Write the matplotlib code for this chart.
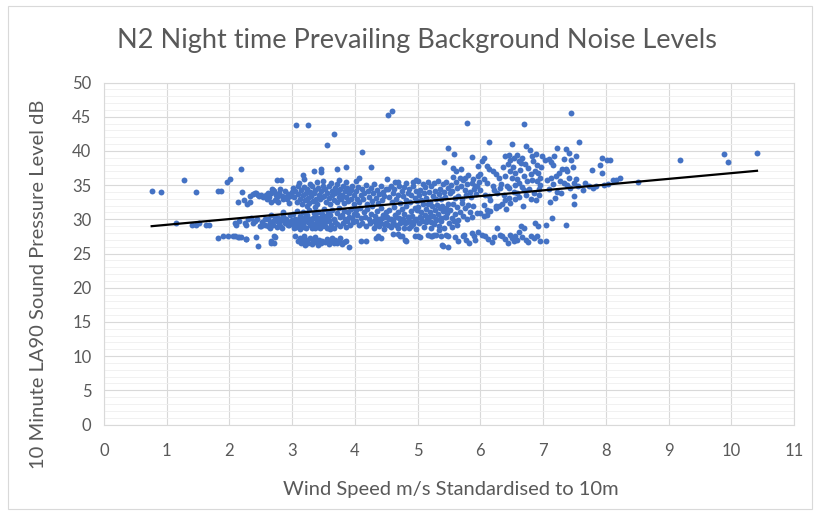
import numpy as np
import matplotlib
matplotlib.use("Agg")
import matplotlib.pyplot as plt
from matplotlib.patches import Rectangle

# (wind speed m/s, LA90 dB), grouped by wind speed band
band_below_2 = [
    (0.76, 34.2), (0.91, 34.0), (1.15, 29.5), (1.28, 35.7), (1.40, 29.1), (1.46, 34.0),
    (1.46, 29.1), (1.51, 29.4), (1.62, 29.2), (1.67, 29.2), (1.81, 34.2), (1.86, 34.2),
    (1.82, 27.2), (1.90, 27.5), (1.97, 27.6), (1.96, 35.5), (2.01, 35.9),
]
band_2_3 = [
    (2.19, 37.4), (2.20, 34.0), (2.13, 32.5), (2.23, 32.8), (2.28, 32.3), (2.32, 32.6),
    (2.33, 33.4), (2.37, 33.7), (2.40, 33.9), (2.42, 33.8), (2.45, 33.6), (2.47, 33.4),
    (2.09, 29.5), (2.11, 29.2), (2.16, 29.8), (2.24, 29.5), (2.26, 29.1), (2.30, 30.0),
    (2.34, 30.2), (2.38, 29.5), (2.40, 29.7), (2.44, 30.1), (2.48, 29.0),
    (2.06, 27.5), (2.09, 27.5), (2.14, 27.4), (2.16, 27.4), (2.19, 27.4), (2.26, 27.1),
    (2.27, 27.1), (2.43, 27.4), (2.45, 26.1),
    (2.76, 35.7), (2.82, 35.8),
    (2.50, 33.5), (2.53, 33.3), (2.56, 33.4), (2.58, 33.6), (2.62, 33.8), (2.63, 33.3),
    (2.66, 33.9), (2.68, 34.4), (2.70, 34.3), (2.71, 34.1), (2.74, 33.6), (2.76, 33.2),
    (2.79, 33.9), (2.81, 34.5), (2.84, 33.4), (2.87, 33.3), (2.89, 34.2), (2.92, 33.0),
    (2.94, 33.7), (2.97, 33.4), (2.99, 34.0), (2.66, 32.5), (2.72, 32.8), (2.78, 32.6),
    (2.86, 32.9), (2.95, 32.4), (2.60, 32.9),
    (2.50, 29.0), (2.56, 29.1), (2.61, 30.0), (2.64, 29.5), (2.67, 30.7), (2.70, 29.2),
    (2.72, 30.4), (2.75, 29.7), (2.78, 30.2), (2.80, 29.0), (2.83, 29.9), (2.86, 30.5),
    (2.88, 29.4), (2.90, 30.0), (2.93, 29.1), (2.96, 30.6), (2.98, 29.6), (2.85, 31.0),
    (2.76, 28.9), (2.65, 28.8),
    (2.52, 29.6), (2.57, 30.1), (2.62, 29.0), (2.69, 29.8), (2.74, 30.0), (2.79, 29.4),
    (2.84, 28.8), (2.91, 29.7), (2.95, 29.2),
    (2.66, 26.6), (2.67, 26.8), (2.71, 27.5), (2.72, 27.4), (2.71, 26.6),
]
band_3_4 = [
    (3.06, 43.85), (3.26, 43.85), (3.17, 36.5), (3.19, 35.9), (3.35, 37.1), (3.46, 37.4),
    (3.46, 36.9), (3.49, 35.6),
    (3.01, 34.6), (3.03, 33.2), (3.05, 34.1), (3.07, 32.6), (3.09, 33.7), (3.10, 34.9),
    (3.12, 33.0), (3.14, 34.3), (3.15, 32.2), (3.17, 33.5), (3.19, 34.7), (3.20, 32.8),
    (3.22, 33.9), (3.24, 34.4), (3.25, 33.1), (3.27, 32.4), (3.29, 34.0), (3.30, 33.4),
    (3.32, 34.8), (3.33, 32.7), (3.35, 33.8), (3.37, 34.3), (3.38, 33.0), (3.40, 32.3),
    (3.41, 34.6), (3.43, 33.6), (3.44, 32.9), (3.46, 34.1), (3.47, 33.3), (3.49, 34.9),
    (3.11, 35.3), (3.28, 35.2), (3.39, 35.4), (3.23, 31.9), (3.36, 31.8),
    (3.01, 30.8), (3.02, 29.3), (3.04, 30.1), (3.06, 28.9), (3.08, 31.2), (3.10, 29.7),
    (3.12, 30.5), (3.13, 28.6), (3.15, 29.9), (3.17, 31.0), (3.18, 29.4), (3.20, 30.3),
    (3.22, 28.8), (3.24, 30.7), (3.26, 29.6), (3.27, 31.3), (3.29, 30.0), (3.31, 28.7),
    (3.32, 29.5), (3.34, 30.9), (3.36, 29.1), (3.38, 30.4), (3.39, 29.8), (3.41, 31.1),
    (3.42, 28.9), (3.44, 30.2), (3.45, 29.4), (3.47, 30.8), (3.48, 29.0), (3.50, 30.0),
    (3.00, 29.9), (3.03, 28.8), (3.07, 29.5), (3.11, 30.1), (3.14, 29.2), (3.19, 28.9),
    (3.23, 29.8), (3.28, 29.1), (3.33, 30.2), (3.37, 28.8), (3.40, 29.6), (3.44, 28.7),
    (3.49, 29.5), (3.53, 29.0), (3.58, 29.7), (3.60, 28.6),
    (3.05, 27.6), (3.09, 26.9), (3.12, 27.3), (3.14, 26.5), (3.17, 26.8), (3.19, 27.5),
    (3.21, 26.3), (3.24, 27.0), (3.26, 26.6), (3.29, 27.2), (3.31, 26.4), (3.33, 26.9),
    (3.36, 27.4), (3.38, 26.7), (3.41, 26.2), (3.43, 27.0), (3.46, 26.5), (3.48, 26.9),
    (3.55, 40.8), (3.67, 42.5), (3.71, 37.3), (3.86, 37.6), (3.75, 35.8), (3.72, 35.1),
    (3.51, 33.4), (3.53, 34.5), (3.54, 32.6), (3.56, 33.9), (3.58, 34.8), (3.59, 33.1),
    (3.61, 32.3), (3.63, 34.2), (3.64, 33.5), (3.66, 32.8), (3.68, 34.6), (3.69, 33.8),
    (3.71, 32.5), (3.73, 34.0), (3.74, 33.2), (3.76, 34.4), (3.78, 32.9), (3.79, 33.6),
    (3.81, 34.9), (3.83, 32.4), (3.84, 34.1), (3.86, 33.3), (3.88, 34.6), (3.89, 32.7),
    (3.91, 33.9), (3.93, 34.3), (3.94, 33.0), (3.96, 34.8), (3.98, 33.5), (3.99, 32.2),
    (3.62, 35.3), (3.85, 35.4),
    (3.51, 31.5), (3.52, 29.6), (3.54, 30.5), (3.56, 28.8), (3.57, 31.0), (3.59, 29.9),
    (3.61, 30.7), (3.62, 29.2), (3.64, 31.4), (3.66, 30.1), (3.67, 28.7), (3.69, 29.6),
    (3.71, 30.9), (3.72, 29.3), (3.74, 31.6), (3.76, 30.3), (3.77, 29.0), (3.79, 30.6),
    (3.81, 29.5), (3.82, 31.2), (3.84, 30.0), (3.86, 28.9), (3.87, 29.8), (3.89, 31.0),
    (3.91, 30.4), (3.92, 29.2), (3.94, 31.5), (3.96, 30.2), (3.97, 29.6), (3.99, 30.8),
    (3.52, 26.7), (3.55, 27.1), (3.58, 26.4), (3.60, 26.9), (3.63, 27.3), (3.66, 26.6),
    (3.68, 27.0), (3.71, 26.5), (3.74, 26.8), (3.77, 27.2), (3.80, 26.4), (3.83, 26.7),
    (3.86, 26.9), (3.90, 25.9),
]
band_4_5 = [
    (4.12, 39.9), (4.26, 37.6), (4.07, 36.0), (4.02, 35.6),
    (4.01, 34.2), (4.03, 33.0), (4.05, 34.7), (4.07, 32.5), (4.09, 33.6), (4.11, 34.4),
    (4.13, 32.9), (4.15, 33.8), (4.17, 35.0), (4.19, 32.3), (4.21, 34.1), (4.23, 33.3),
    (4.25, 34.6), (4.27, 32.7), (4.29, 33.9), (4.31, 35.2), (4.33, 33.1), (4.35, 34.3),
    (4.37, 32.4), (4.39, 33.7), (4.41, 34.8), (4.43, 32.8), (4.45, 34.0), (4.47, 33.4),
    (4.49, 34.5),
    (4.01, 31.3), (4.02, 29.8), (4.04, 30.6), (4.06, 29.1), (4.08, 31.7), (4.10, 30.2),
    (4.12, 29.5), (4.14, 31.0), (4.16, 30.4), (4.18, 29.0), (4.20, 31.5), (4.22, 30.0),
    (4.24, 29.4), (4.26, 30.8), (4.28, 31.9), (4.30, 29.7), (4.32, 30.5), (4.34, 29.2),
    (4.36, 31.2), (4.38, 30.1), (4.40, 29.6), (4.42, 31.6), (4.44, 30.7), (4.46, 29.3),
    (4.48, 30.3), (4.50, 31.0),
    (4.31, 28.8), (4.35, 29.9), (4.39, 29.0), (4.43, 30.2), (4.47, 28.6),
    (4.09, 26.8), (4.17, 26.8), (4.33, 27.3), (4.37, 27.6), (4.41, 27.3),
    (4.52, 45.3), (4.59, 45.9), (4.51, 35.9), (4.64, 35.5), (4.69, 35.5), (4.82, 35.3),
    (4.93, 35.5), (4.98, 35.7),
    (4.52, 34.4), (4.54, 33.2), (4.57, 34.8), (4.59, 32.6), (4.61, 33.9), (4.63, 34.5),
    (4.66, 32.9), (4.68, 33.6), (4.70, 34.9), (4.72, 32.4), (4.75, 34.2), (4.77, 33.4),
    (4.79, 34.7), (4.81, 32.8), (4.84, 33.8), (4.86, 34.4), (4.88, 32.5), (4.90, 33.5),
    (4.92, 34.8), (4.95, 33.1), (4.97, 34.1), (4.99, 32.7),
    (4.51, 30.4), (4.53, 29.2), (4.55, 31.4), (4.58, 30.0), (4.60, 29.5), (4.62, 31.8),
    (4.64, 30.6), (4.66, 29.1), (4.69, 31.1), (4.71, 30.2), (4.73, 29.7), (4.75, 31.5),
    (4.78, 30.8), (4.80, 29.4), (4.82, 31.9), (4.84, 30.3), (4.87, 29.8), (4.89, 31.2),
    (4.91, 30.5), (4.93, 29.3), (4.95, 31.7), (4.97, 30.0), (4.99, 31.3), (4.86, 28.7),
    (4.50, 29.5), (4.54, 30.0), (4.57, 28.9), (4.61, 29.7), (4.65, 30.3), (4.68, 28.8),
    (4.72, 29.4), (4.76, 30.1), (4.79, 28.7), (4.83, 29.6), (4.87, 30.4), (4.90, 29.0),
    (4.94, 29.8), (4.98, 28.6),
    (4.69, 27.8), (4.72, 27.6), (4.75, 27.5), (4.80, 27.0), (4.81, 26.9), (4.96, 27.5),
    (4.60, 27.8),
]
band_5_6 = [
    (5.42, 38.4), (5.48, 40.4),
    (5.01, 35.6), (5.02, 33.5), (5.04, 34.3), (5.06, 32.8), (5.08, 35.2), (5.10, 33.9),
    (5.12, 34.7), (5.14, 33.1), (5.16, 35.5), (5.18, 34.0), (5.20, 32.6), (5.22, 34.9),
    (5.24, 33.4), (5.26, 35.3), (5.28, 34.2), (5.30, 32.9), (5.32, 35.6), (5.34, 33.7),
    (5.36, 34.5), (5.38, 33.0), (5.40, 35.1), (5.42, 34.0), (5.44, 33.3), (5.46, 35.4),
    (5.48, 34.6),
    (5.01, 31.8), (5.03, 30.3), (5.05, 31.1), (5.07, 29.8), (5.09, 32.2), (5.11, 30.7),
    (5.13, 31.5), (5.15, 30.0), (5.17, 32.3), (5.19, 31.0), (5.21, 29.6), (5.23, 31.9),
    (5.25, 30.5), (5.27, 31.3), (5.29, 29.9), (5.31, 32.1), (5.33, 30.8), (5.35, 31.6),
    (5.37, 30.2), (5.39, 32.0), (5.41, 31.2), (5.43, 30.4), (5.45, 31.7), (5.47, 30.9),
    (5.49, 32.3),
    (5.02, 29.4), (5.06, 30.2), (5.10, 28.9), (5.14, 29.6), (5.18, 30.4), (5.22, 28.8),
    (5.26, 29.3), (5.30, 30.1), (5.34, 29.0), (5.38, 29.7), (5.42, 28.7), (5.46, 30.3),
    (5.50, 29.4), (5.54, 28.9), (5.58, 29.8), (5.62, 29.2),
    (5.00, 27.5), (5.04, 27.4), (5.16, 27.75), (5.21, 27.5), (5.23, 27.6), (5.26, 27.75),
    (5.30, 27.7), (5.34, 28.5), (5.37, 27.6), (5.39, 26.2), (5.41, 26.1), (5.45, 27.75),
    (5.48, 27.5), (5.49, 26.0),
    (5.78, 44.1), (5.58, 39.6), (5.87, 39.1), (5.56, 37.5), (5.61, 37.1), (5.69, 37.4),
    (5.76, 36.05), (5.86, 35.3), (5.91, 34.8), (5.97, 37.75),
    (5.51, 33.8), (5.53, 35.0), (5.55, 34.2), (5.57, 36.2), (5.59, 33.1), (5.61, 35.5),
    (5.63, 34.6), (5.65, 33.4), (5.67, 36.0), (5.69, 34.9), (5.71, 33.0), (5.73, 35.8),
    (5.75, 34.3), (5.77, 33.6), (5.79, 35.2), (5.81, 36.5), (5.83, 34.0), (5.85, 33.3),
    (5.88, 35.9), (5.90, 34.4), (5.93, 33.7), (5.96, 36.3), (5.98, 35.4), (5.95, 34.8),
    (5.52, 31.4), (5.54, 30.2), (5.57, 32.3), (5.60, 30.8), (5.62, 31.8), (5.65, 29.9),
    (5.68, 31.1), (5.70, 32.4), (5.72, 30.5), (5.75, 31.6), (5.78, 30.0), (5.80, 32.1),
    (5.83, 31.0), (5.86, 30.4), (5.89, 31.9), (5.94, 30.9),
    (5.72, 27.5), (5.74, 27.75), (5.77, 27.0), (5.87, 28.0), (5.90, 27.5), (5.92, 27.0),
    (5.60, 27.4), (5.65, 26.8), (5.82, 26.6), (5.97, 28.2),
]
band_6_7 = [
    (6.13, 41.3), (6.50, 41.0), (6.73, 40.7), (6.79, 40.2), (6.69, 43.95),
    (6.06, 39.0), (6.03, 38.5), (6.39, 39.2), (6.45, 39.45), (6.48, 38.7), (6.53, 39.0),
    (6.58, 39.45), (6.61, 38.5), (6.64, 38.25), (6.66, 39.0), (6.82, 39.2), (6.84, 38.5),
    (6.90, 38.0),
    (6.11, 37.75), (6.14, 37.3), (6.20, 37.05), (6.25, 36.6), (6.30, 36.1),
    (6.00, 36.6), (6.06, 35.85), (6.11, 35.3), (6.20, 34.85), (6.22, 34.3),
    (6.48, 37.05), (6.50, 36.1), (6.56, 36.8), (6.58, 35.85), (6.61, 35.3), (6.69, 36.3),
    (6.74, 35.6), (6.80, 36.6), (6.87, 37.05), (6.92, 36.8), (6.95, 36.1), (6.90, 35.6),
    (6.95, 35.05),
    (6.45, 34.55), (6.53, 34.05), (6.58, 33.85), (6.69, 34.3),
    (6.00, 34.3), (6.08, 33.6), (6.13, 33.35), (6.16, 32.85), (6.45, 33.1), (6.39, 32.85),
    (6.06, 32.1), (6.11, 31.4), (6.16, 31.2), (6.25, 31.6), (6.30, 31.9), (6.35, 32.2),
    (6.00, 30.9), (6.06, 30.45), (6.11, 30.7), (6.25, 31.9),
    (6.33, 35.2), (6.36, 37.6), (6.40, 36.4), (6.42, 34.9), (6.44, 38.1), (6.52, 37.7),
    (6.55, 35.0), (6.63, 37.2), (6.66, 34.7), (6.71, 38.1), (6.76, 37.5), (6.78, 34.4),
    (6.83, 35.8), (6.86, 33.9), (6.89, 39.6), (6.93, 34.5), (6.97, 37.6), (6.98, 39.3),
    (6.27, 33.8), (6.31, 34.6), (6.37, 33.5), (6.41, 31.5), (6.47, 32.4), (6.55, 32.9),
    (6.62, 33.2), (6.68, 32.0), (6.72, 33.5), (6.80, 33.0), (6.88, 32.8), (6.93, 33.6),
    (6.03, 27.75), (6.08, 27.5), (6.27, 28.7), (6.32, 27.75), (6.35, 27.5), (6.48, 27.75),
    (6.50, 27.25), (6.56, 27.5), (6.58, 27.0), (6.61, 28.2), (6.64, 29.0), (6.69, 28.7),
    (6.72, 27.0), (6.80, 27.5), (6.85, 27.25), (6.87, 29.45), (6.92, 29.0), (6.95, 26.8),
    (6.12, 27.1), (6.18, 26.7), (6.22, 27.4), (6.40, 27.1), (6.44, 26.6), (6.53, 26.9),
    (6.66, 27.4), (6.76, 26.7), (6.90, 27.6),
]
band_above_7 = [
    (7.45, 45.6), (7.58, 41.3), (7.22, 40.4), (7.37, 40.3), (7.41, 39.7), (7.44, 38.6),
    (7.34, 38.8), (7.03, 38.6), (7.12, 38.35), (7.15, 38.0), (7.17, 39.3), (7.09, 38.8),
    (7.30, 37.3), (7.36, 37.4), (7.38, 37.0), (7.25, 36.8), (7.07, 35.8), (7.12, 36.05),
    (7.20, 36.3), (7.33, 35.3), (7.38, 35.05), (7.41, 36.05), (7.49, 35.3), (7.49, 33.4),
    (7.49, 32.3), (7.64, 34.3), (7.79, 34.55), (7.78, 37.2), (7.94, 39.0), (8.02, 38.6),
    (7.91, 38.0), (7.94, 36.8), (8.16, 35.8), (7.14, 30.2), (7.36, 29.1), (7.04, 29.2),
    (7.04, 26.8),
    (7.09, 34.5), (7.16, 35.2), (7.22, 34.0), (7.27, 35.6), (7.43, 34.6), (7.53, 35.9),
    (7.56, 34.9), (7.19, 33.1), (7.29, 33.8), (7.11, 32.5), (7.47, 37.6), (7.52, 39.2),
    (7.67, 35.3), (7.73, 34.9), (7.85, 34.8), (7.97, 35.0), (8.03, 35.2),
    (8.12, 35.7), (8.23, 36.1), (8.52, 35.4), (9.19, 38.7), (9.88, 39.6), (9.95, 38.4),
    (10.41, 39.7), (8.07, 38.6),
]

points = np.array(band_below_2 + band_2_3 + band_3_4 + band_4_5
                  + band_5_6 + band_6_7 + band_above_7)
wind_speed = points[:, 0]
la90 = points[:, 1]

text_grey = "#595959"
grid_grey = "#d9d9d9"
font = "Lato"

fig = plt.figure(figsize=(8.15, 5.14), dpi=100)
fig.patches.append(Rectangle((8 / 815, 5 / 514), 804 / 815, 503 / 514,
                             transform=fig.transFigure, fill=False,
                             edgecolor=grid_grey, linewidth=0.8))
ax = fig.add_axes([104 / 815, 1 - 424.5 / 514, 690 / 815, 342 / 514])

ax.scatter(wind_speed, la90, s=18, color="#4472C4", linewidths=0, zorder=3)

# linear trend line, as Excel draws it: from smallest to largest wind speed
slope, intercept = np.polyfit(wind_speed, la90, 1)
xs = np.array([wind_speed.min(), wind_speed.max()])
ax.plot(xs, slope * xs + intercept, color="black", linewidth=1.6, zorder=4)

ax.set_xlim(0, 11)
ax.set_ylim(0, 50)
ax.set_xticks(range(0, 12))
ax.set_yticks(range(0, 51, 5))
ax.set_yticks(range(0, 51, 1), minor=True)
ax.grid(True, which="major", color=grid_grey, linewidth=0.8, zorder=0)
ax.grid(True, which="minor", axis="y", color="#efefef", linewidth=0.6, zorder=0)
ax.set_axisbelow(True)
for side in ax.spines.values():
    side.set_color(grid_grey)
    side.set_linewidth(0.8)
ax.tick_params(which="both", length=0)
ax.tick_params(axis="x", pad=13, labelsize=12, labelcolor=text_grey)
ax.tick_params(axis="y", pad=9, labelsize=12, labelcolor=text_grey)
for lab in ax.get_xticklabels() + ax.get_yticklabels():
    lab.set_family(font)

ax.set_xlabel("Wind Speed m/s Standardised to 10m", family=font, fontsize=14.5,
              color=text_grey)
ax.xaxis.set_label_coords(0.503, -0.165)
ax.set_ylabel("10 Minute LA90 Sound Pressure Level dB", family=font, fontsize=14.5,
              color=text_grey)
ax.yaxis.set_label_coords(-0.083, 0.41)
fig.text(417 / 815, 1 - 41 / 514, "N2 Night time Prevailing Background Noise Levels",
         family=font, fontsize=19.5, color=text_grey, ha="center", va="center")

fig.savefig("out.png", dpi=100)
